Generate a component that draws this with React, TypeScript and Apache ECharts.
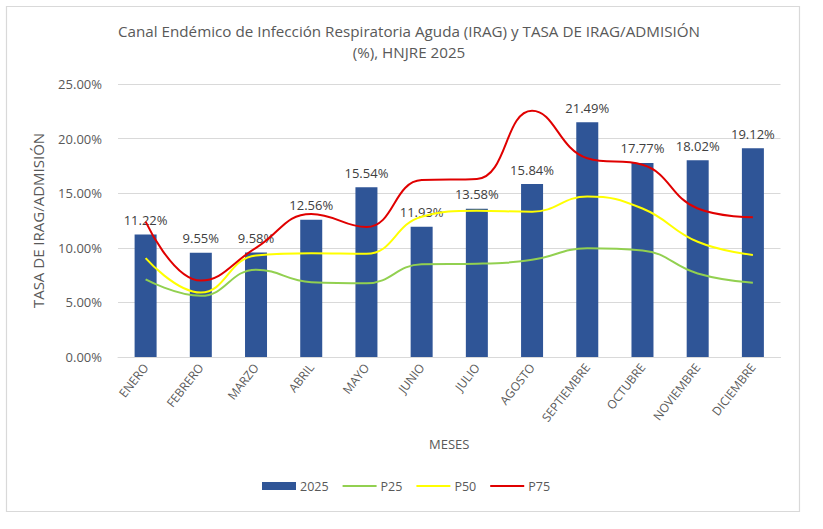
import React, { useEffect, useRef } from "react";
import * as echarts from "echarts";

const months = ["ENERO", "FEBRERO", "MARZO", "ABRIL", "MAYO", "JUNIO", "JULIO", "AGOSTO", "SEPTIEMBRE", "OCTUBRE", "NOVIEMBRE", "DICIEMBRE"];
const rate2025 = [11.22, 9.55, 9.58, 12.56, 15.54, 11.93, 13.58, 15.84, 21.49, 17.77, 18.02, 19.12];
const p25 = [7.1, 5.6, 8.0, 6.85, 6.75, 8.5, 8.55, 8.9, 9.95, 9.75, 7.65, 6.8];
const p50 = [9.05, 5.9, 9.3, 9.5, 9.45, 12.85, 13.4, 13.3, 14.7, 13.6, 10.55, 9.35];
const p75 = [12.4, 7.0, 10.0, 13.1, 11.9, 16.2, 16.3, 22.55, 18.2, 17.6, 13.6, 12.8];
const yTicks = [0, 5, 10, 15, 20, 25];

const FONT = "'Open Sans', 'Noto Sans', sans-serif";
const GRAY = "#595959";
const LINE_ICON = "path://M0,0H34V2H0Z";

export default function App() {
  const ref = useRef<HTMLDivElement>(null);
  useEffect(() => {
    if (!ref.current) return;
    const chart = echarts.init(ref.current, undefined, { renderer: "svg" });
    chart.setOption({
      animation: false,
      backgroundColor: "#ffffff",
      textStyle: { fontFamily: FONT },
      title: {
        text: "Canal Endémico de Infección Respiratoria Aguda (IRAG) y TASA DE IRAG/ADMISIÓN\n(%), HNJRE 2025",
        left: 404,
        textAlign: "center",
        top: 15,
        textStyle: { fontFamily: FONT, fontSize: 15.2, fontWeight: "normal", color: GRAY, lineHeight: 21 },
      },
      graphic: [
        {
          type: "rect",
          shape: { x: 6.5, y: 6.5, width: 793, height: 505 },
          style: { fill: "none", stroke: "#d9d9d9", lineWidth: 1.2 },
          silent: true,
        },
      ],
      legend: {
        left: 262,
        top: 479.5,
        padding: 0,
        itemWidth: 34,
        itemHeight: 8,
        itemGap: 14,
        textStyle: { fontFamily: FONT, fontSize: 12.5, color: GRAY, padding: [0, 0, 0, -1] },
        data: [
          { name: "2025", icon: "rect" },
          { name: "P25", icon: LINE_ICON },
          { name: "P50", icon: LINE_ICON },
          { name: "P75", icon: LINE_ICON },
        ],
      },
      grid: { left: 118, right: 42.5, top: 84, bottom: 172 },
      xAxis: {
        type: "category",
        data: months,
        name: "MESES",
        nameLocation: "middle",
        nameGap: 80,
        nameMoveOverlap: false,
        nameTextStyle: { fontFamily: FONT, fontSize: 13, color: GRAY },
        axisTick: { show: false },
        axisLine: { lineStyle: { color: "#d9d9d9" } },
        axisLabel: { rotate: 52, fontFamily: FONT, fontSize: 12, color: GRAY, margin: 8, interval: 0 },
      },
      yAxis: {
        type: "value",
        min: yTicks[0],
        max: yTicks[yTicks.length - 1],
        interval: 5,
        name: "TASA DE IRAG/ADMISIÓN",
        nameLocation: "middle",
        nameGap: 73,
        nameTextStyle: { fontFamily: FONT, fontSize: 15, color: GRAY },
        axisLine: { show: false },
        axisTick: { show: false },
        splitLine: { lineStyle: { color: "#d9d9d9" } },
        axisLabel: {
          fontFamily: FONT,
          fontSize: 13,
          color: GRAY,
          margin: 16,
          formatter: (v: number) => v.toFixed(2) + "%",
        },
      },
      series: [
        {
          name: "2025",
          type: "bar",
          data: rate2025,
          barWidth: 22,
          itemStyle: { color: "#2F5597" },
          label: {
            show: true,
            position: "top",
            distance: 8,
            fontFamily: FONT,
            fontSize: 13,
            color: "#404040",
            formatter: (p: any) => Number(p.value).toFixed(2) + "%",
          },
          z: 1,
        },
        {
          name: "P25",
          type: "line",
          data: p25,
          smooth: 0.45,
          symbol: "none",
          lineStyle: { color: "#92D050", width: 2 },
          itemStyle: { color: "#92D050" },
          z: 3,
        },
        {
          name: "P50",
          type: "line",
          data: p50,
          smooth: 0.45,
          symbol: "none",
          lineStyle: { color: "#FFFF00", width: 2 },
          itemStyle: { color: "#FFFF00" },
          z: 3,
        },
        {
          name: "P75",
          type: "line",
          data: p75,
          smooth: 0.45,
          symbol: "none",
          lineStyle: { color: "#E00000", width: 2 },
          itemStyle: { color: "#E00000" },
          z: 3,
        },
      ],
    });
    return () => chart.dispose();
  }, []);
  return <div ref={ref} style={{ position: "fixed", left: 0, top: 0, width: 823, height: 529 }} />;
}
